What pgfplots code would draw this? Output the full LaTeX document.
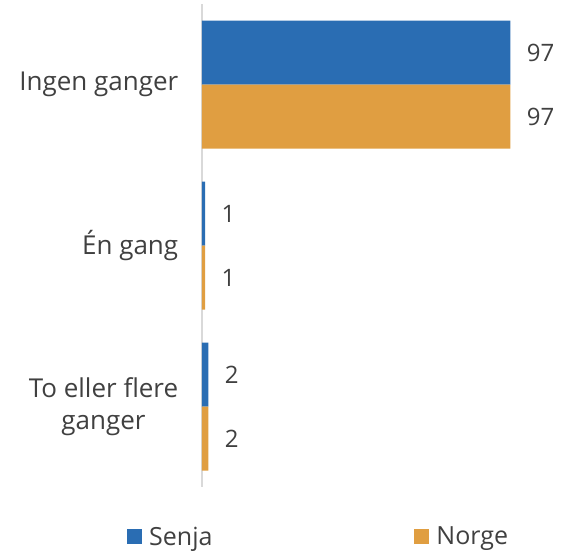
\documentclass[border=0pt]{standalone}
\usepackage{fontspec}
\setmainfont{Open Sans}
\usepackage{pgfplots}
\pgfplotsset{compat=1.18}
\definecolor{senja}{HTML}{2A6DB3}
\definecolor{norge}{HTML}{E09E41}
\definecolor{txt}{HTML}{404040}
\begin{document}
\begin{tikzpicture}
\useasboundingbox (-202pt,-65pt) rectangle (365pt,487pt);
\begin{axis}[
  at={(0pt,0pt)}, anchor=south west,
  scale only axis, width=318pt, height=483pt,
  xbar, xmin=0, xmax=100,
  ymin=-0.5, ymax=2.5, y dir=reverse,
  hide x axis,
  axis y line*=left,
  y axis line style={draw=black!15, line width=1.5pt},
  ytick={0,1,2}, ytick style={draw=none},
  yticklabels={Ingen ganger, Én gang, {To eller flere\\ganger}},
  yticklabel style={align=center, font=\fontsize{26}{32}\selectfont, text=txt, xshift=-16pt},
  bar width=64pt,
  nodes near coords,
  /pgf/number format/assume math mode=true,
  every node near coord/.append style={anchor=west, xshift=13pt, font=\fontsize{24}{28}\selectfont, text=txt},
  legend columns=2,
  legend style={at={(-0.236,-0.103)}, anchor=west, draw=none, fill=none, inner sep=0pt,
    font=\fontsize{25}{30}\selectfont, text=txt,
    /tikz/every even column/.append style={column sep=200pt}},
  legend image code/.code={\fill[#1] (0pt,-7pt) rectangle (15pt,8pt);},
]
\addplot[fill=senja, draw=none, bar shift=32pt] coordinates {(97,0) (1,1) (2,2)};
\addplot[fill=norge, draw=none, bar shift=-32pt] coordinates {(97,0) (1,1) (2,2)};
\legend{\hspace{5pt}Senja, \hspace{5pt}Norge}
\end{axis}
\end{tikzpicture}
\end{document}
